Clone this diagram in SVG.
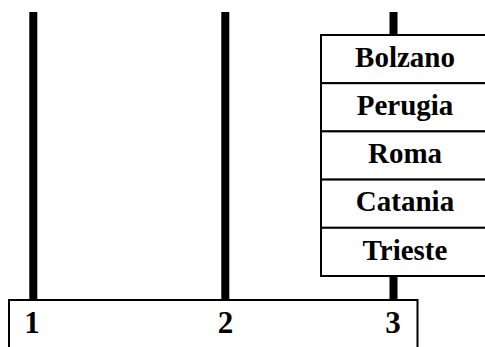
<svg xmlns="http://www.w3.org/2000/svg" width="485" height="347" viewBox="0 0 485 347">
<style>
.peg{fill:#000}
.box{fill:#fff;stroke:#000;stroke-width:2}
.t{font-family:"Liberation Serif","Times New Roman",serif;font-weight:bold;font-size:29px;fill:#000;text-anchor:middle}
.n{font-size:31px}
</style>
<rect width="485" height="347" fill="#fff"/>
<g id="connectors">
<rect class="peg" x="29.3" y="12" width="8" height="289"/>
<rect class="peg" x="221.3" y="12" width="8" height="289"/>
<rect class="peg" x="389.5" y="12" width="8" height="289"/>
</g>
<g id="base">
<rect class="box" x="9" y="300" width="408.5" height="60"/>
<text class="t n" x="32" y="332.7">1</text>
<text class="t n" x="225.5" y="332.7">2</text>
<text class="t n" x="393" y="332.7">3</text>
</g>
<g id="bolzano">
<rect class="box" x="321" y="35" width="170" height="48.2"/>
<text class="t" x="405" y="66.7">Bolzano</text>
</g>
<g id="perugia">
<rect class="box" x="321" y="83.2" width="170" height="48.2"/>
<text class="t" x="405" y="114.9">Perugia</text>
</g>
<g id="roma">
<rect class="box" x="321" y="131.4" width="170" height="48.2"/>
<text class="t" x="405" y="163.1">Roma</text>
</g>
<g id="catania">
<rect class="box" x="321" y="179.6" width="170" height="48.2"/>
<text class="t" x="405" y="211.3">Catania</text>
</g>
<g id="trieste">
<rect class="box" x="321" y="227.8" width="170" height="48.2"/>
<text class="t" x="405" y="259.5">Trieste</text>
</g>
</svg>
